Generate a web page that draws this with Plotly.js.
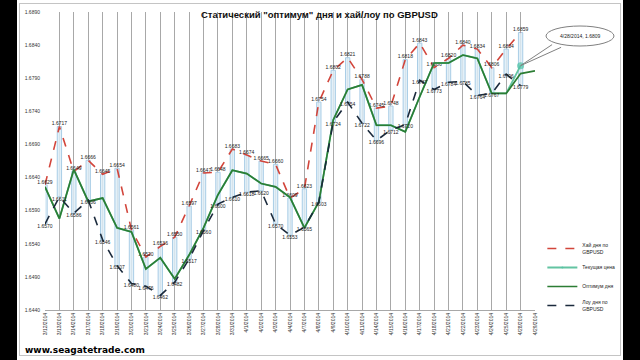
<!DOCTYPE html>
<html>
<head>
<meta charset="utf-8">
<script src="https://cdn.plot.ly/plotly-3.0.1.min.js"></script>
<style>
  html, body { margin: 0; padding: 0; background: #000; width: 640px; height: 360px; overflow: hidden; }
  #panel { position: absolute; left: 17px; top: 0; width: 606px; height: 360px; background: #fff; }
  #frame { position: absolute; left: 19px; top: 3px; width: 600px; height: 351px; border: 1px solid #c4c4c4; }
  #chart { position: absolute; left: 0; top: 0; width: 640px; height: 360px; }
</style>
</head>
<body>
<div id="panel"></div>
<div id="frame"></div>
<div id="chart"></div>
<script>
const dates = ['3/12/2014','3/13/2014','3/14/2014','3/17/2014','3/18/2014','3/19/2014','3/20/2014','3/21/2014','3/24/2014','3/25/2014','3/26/2014','3/27/2014','3/28/2014','3/31/2014','4/1/2014','4/2/2014','4/3/2014','4/4/2014','4/7/2014','4/8/2014','4/9/2014','4/10/2014','4/11/2014','4/14/2014','4/15/2014','4/16/2014','4/17/2014','4/18/2014','4/21/2014','4/22/2014','4/23/2014','4/24/2014','4/25/2014','4/28/2014','4/29/2014'];

const highValues = [1.6629, 1.6717, 1.6649, 1.6666, 1.6645, 1.6654, 1.6561, 1.6520, 1.6536, 1.6550, 1.6597, 1.6647, 1.6648, 1.6683, 1.6674, 1.6665, 1.6660, 1.6609, 1.6623, 1.6754, 1.6802, 1.6821, 1.6788, 1.6745, 1.6748, 1.6818, 1.6843, 1.6806, 1.6820, 1.6840, 1.6834, 1.6806, 1.6834, 1.6859, null];

const lowValues = [1.6570, 1.6611, 1.6586, 1.6606, 1.6546, 1.6507, 1.6480, 1.6476, 1.6462, 1.6482, 1.6517, 1.6560, 1.6600, 1.6610, 1.6618, 1.6620, 1.6570, 1.6553, 1.6565, 1.6603, 1.6724, 1.6754, 1.6722, 1.6696, 1.6712, 1.6720, 1.6787, 1.6773, 1.6784, 1.6785, 1.6764, 1.6767, 1.6796, 1.6779, null];

const optimumValues = [1.6626, 1.6578, 1.6652, 1.6604, 1.6609, 1.6564, 1.6558, 1.6502, 1.6519, 1.6487, 1.6523, 1.6564, 1.6614, 1.6651, 1.6646, 1.6631, 1.6626, 1.6610, 1.6564, 1.6603, 1.6727, 1.6773, 1.6780, 1.6719, 1.6719, 1.6709, 1.6762, 1.6813, 1.6813, 1.6825, 1.6820, 1.6767, 1.6767, 1.6797, 1.6801];

const currentValues = [1.6626, 1.6578, 1.6652, 1.6604, 1.6609, 1.6564, 1.6558, 1.6502, 1.6519, 1.6487, 1.6523, 1.6564, 1.6614, 1.6651, 1.6646, 1.6631, 1.6626, 1.6610, 1.6564, 1.6603, 1.6727, 1.6773, 1.6780, 1.6719, 1.6719, 1.6709, 1.6762, 1.6813, 1.6813, 1.6825, 1.6820, 1.6767, 1.6767, 1.6809, null];

const yTickValues = [1.6440, 1.6490, 1.6540, 1.6590, 1.6640, 1.6690, 1.6740, 1.6790, 1.6840, 1.6890];

const calloutIndex = 33;

const fmt = v => (v === null ? '' : v.toFixed(4));
const labelFont = { family: 'Liberation Sans, Arial, sans-serif', size: 5, color: '#222' };

const rangeBars = {
  type: 'bar',
  x: dates,
  base: lowValues,
  y: highValues.map((h, i) => (h === null || lowValues[i] === null ? null : h - lowValues[i])),
  width: 0.3,
  marker: { color: 'rgba(222,237,247,0.85)', line: { color: '#a9cde6', width: 1 } },
  showlegend: false,
  hoverinfo: 'skip'
};

const highTrace = {
  type: 'scatter', mode: 'lines+text', name: 'Хай дня по<br>GBPUSD',
  x: dates, y: highValues,
  text: highValues.map(fmt), textposition: 'top center', textfont: labelFont,
  line: { color: '#d2453b', width: 1.6, dash: 'dash' },
  cliponaxis: false
};

const currentTrace = {
  type: 'scatter', mode: 'lines+markers', name: 'Текущая цена',
  x: dates, y: currentValues,
  line: { color: '#63c4a2', width: 1.8 },
  marker: { color: '#4fc3a5', symbol: 'circle',
            size: currentValues.map((v, i) => (i === calloutIndex ? 7 : 0)),
            line: { width: 0 } }
};

const optimumTrace = {
  type: 'scatter', mode: 'lines', name: 'Оптимум дня',
  x: dates, y: optimumValues,
  line: { color: '#2c7d34', width: 1.7 }
};

const lowTrace = {
  type: 'scatter', mode: 'lines+text', name: 'Лоу дня по<br>GBPUSD',
  x: dates, y: lowValues,
  text: lowValues.map(fmt), textposition: 'bottom center', textfont: labelFont,
  line: { color: '#1b2a3c', width: 1.6, dash: 'dash' },
  cliponaxis: false
};

const calloutX = 1 + (580 - 535) / 490;
const calloutY = (310 - 36) / 298;

const layout = {
  width: 640, height: 360,
  margin: { l: 45, r: 105, t: 12, b: 50, autoexpand: false },
  paper_bgcolor: 'rgba(0,0,0,0)',
  plot_bgcolor: 'rgba(0,0,0,0)',
  font: { family: 'Liberation Sans, Arial, sans-serif', color: '#333' },
  title: {
    text: 'Статический "оптимум" дня и хай/лоу по GBPUSD',
    xref: 'container', yref: 'container', x: 0.499, y: 0.958, xanchor: 'center', yanchor: 'middle',
    font: { family: 'Liberation Sans, Arial, sans-serif', size: 9.5, color: '#111', weight: 'bold' }
  },
  barmode: 'overlay',
  xaxis: {
    type: 'category', range: [0, 34],
    showgrid: true, gridcolor: '#a8a8a8', gridwidth: 1,
    showline: true, linecolor: '#a8a8a8', linewidth: 1,
    ticks: '', tickangle: -90, tickfont: { size: 5, color: '#333' },
    fixedrange: true
  },
  yaxis: {
    range: [1.6440, 1.6890], tickvals: yTickValues, tickformat: '.4f',
    showgrid: false, zeroline: false, showline: false,
    ticks: '', tickfont: { size: 5, color: '#333' }, ticklabelstandoff: 4,
    fixedrange: true
  },
  legend: {
    x: 1.015, xanchor: 'left', y: 0.255, yanchor: 'top',
    font: { size: 5, color: '#222' }, bgcolor: 'rgba(0,0,0,0)',
    tracegroupgap: 0, itemwidth: 30
  },
  shapes: [
    { type: 'circle', xref: 'paper', yref: 'paper',
      xsizemode: 'pixel', ysizemode: 'pixel', xanchor: calloutX, yanchor: calloutY,
      x0: -34, x1: 34, y0: -10, y1: 10,
      line: { color: '#808080', width: 1 }, fillcolor: '#fff' }
  ],
  annotations: [
    { xref: 'x', yref: 'y', x: dates[calloutIndex], y: currentValues[calloutIndex],
      text: '', showarrow: true, arrowhead: 0, arrowwidth: 1, arrowcolor: '#808080',
      ax: 33, ay: -22, standoff: 0 },
    { xref: 'x', yref: 'y', x: dates[calloutIndex], y: currentValues[calloutIndex],
      text: '', showarrow: true, arrowhead: 0, arrowwidth: 1, arrowcolor: '#808080',
      ax: 42, ay: -19, standoff: 0 },
    { xref: 'paper', yref: 'paper', x: calloutX, y: calloutY, xanchor: 'center', yanchor: 'middle',
      text: dates[calloutIndex] + ', ' + fmt(currentValues[calloutIndex]),
      showarrow: false, font: { size: 5, color: '#222' } },
    { xref: 'paper', yref: 'paper', x: (23 - 45) / 490, y: (310 - 350) / 298,
      xanchor: 'left', yanchor: 'middle', showarrow: false,
      text: '<b>www.seagatetrade.com</b>',
      font: { family: 'DejaVu Sans, sans-serif', size: 9, color: '#000' } }
  ]
};

Plotly.newPlot('chart', [rangeBars, highTrace, currentTrace, optimumTrace, lowTrace], layout, { displayModeBar: false, staticPlot: true });
</script>
</body>
</html>
